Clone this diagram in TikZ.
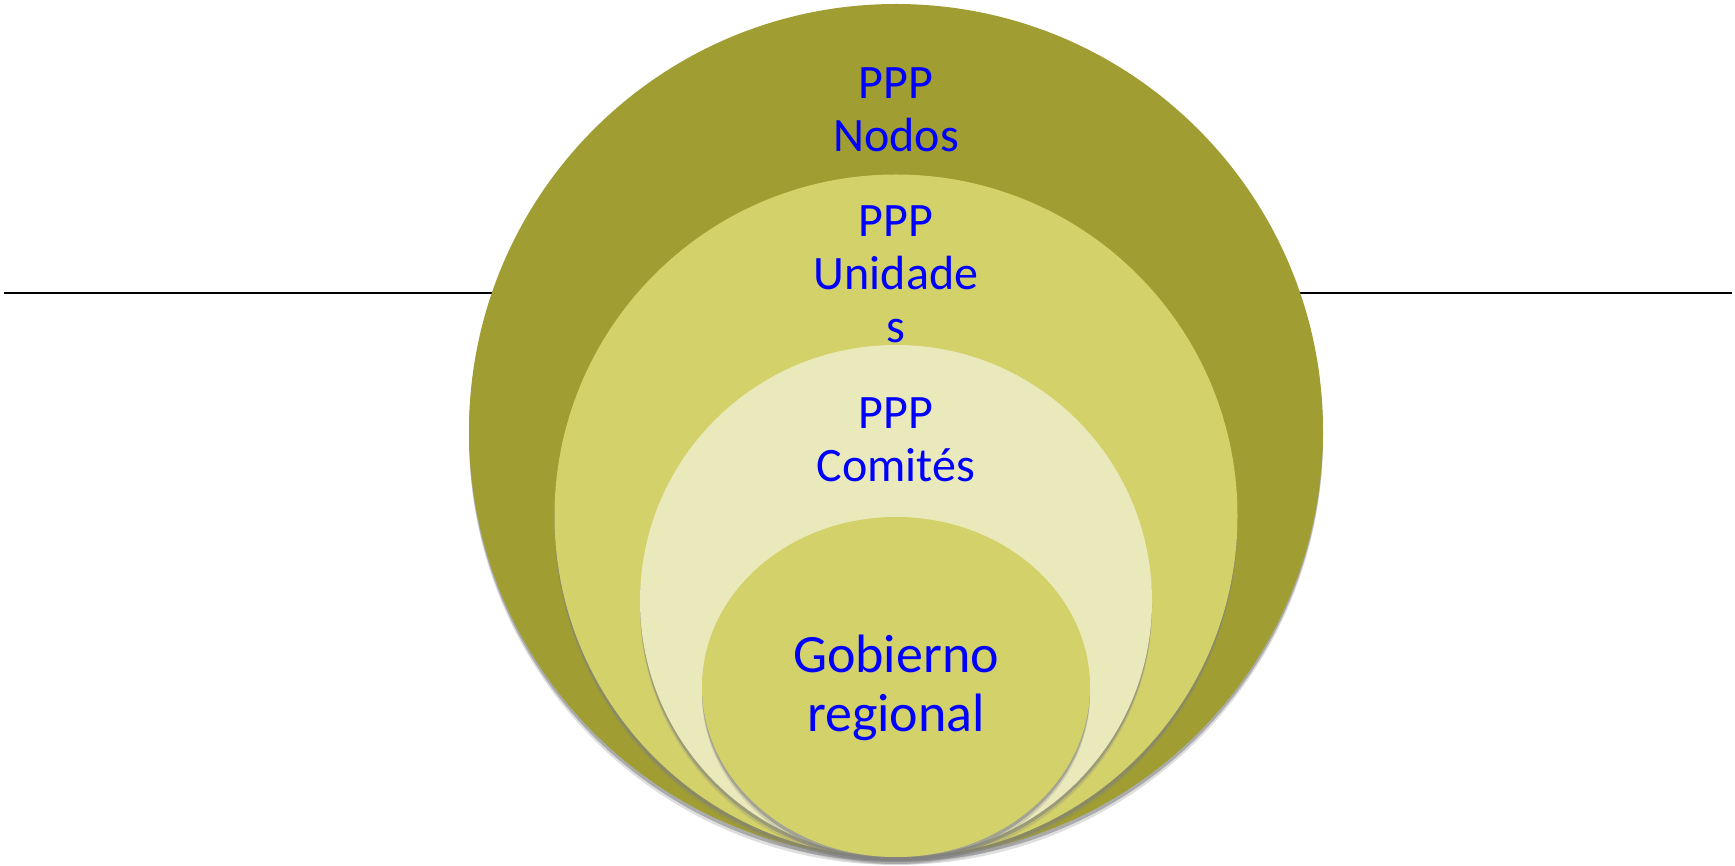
\documentclass[tikz,border=0pt]{standalone}
\usepackage{fontspec}
\setmainfont{Carlito}
\usetikzlibrary{shadows,shapes.geometric}
\definecolor{olive1}{RGB}{160,158,50}
\definecolor{olive2}{RGB}{211,209,106}
\definecolor{olive3}{RGB}{234,233,187}
\definecolor{txtblue}{RGB}{0,0,255}
\begin{document}
\begin{tikzpicture}[x=1pt, y=1pt,
  ring/.style={circle, inner sep=0pt,
    drop shadow={shadow xshift=0pt, shadow yshift=-7pt, opacity=0.25},
    drop shadow={shadow xshift=0pt, shadow yshift=-4pt, opacity=0.55}},
  lbl/.style={anchor=base, align=center, text=txtblue, font=\fontsize{48}{53}\selectfont}]
\useasboundingbox (0,0) rectangle (1735,865);
\coordinate (L_0) at (4,572);
\coordinate (L_1) at (1732,572);
\draw[line width=2pt] (L_0) -- (L_1);
\node[ring, fill=olive1, minimum size=854] (C_0) at (896,434) {};
\node[ring, fill=olive2, minimum size=683] (C_1) at (896,349) {};
\node[ring, fill=olive3, minimum size=512] (C_2) at (896,264) {};
\node[ring, fill=olive2, ellipse, minimum width=388, minimum height=340] (C_3) at (896,178) {};
\node[lbl] (T_0) at (896,713) {PPP\\Nodos};
\node[lbl] (T_1) at (896,522) {PPP\\Unidade\\s};
\node[lbl] (T_2) at (896,383) {PPP\\Comités};
\node[lbl, font=\fontsize{54}{59}\selectfont] (T_3) at (896,133) {Gobierno\\regional};
\end{tikzpicture}
\end{document}
